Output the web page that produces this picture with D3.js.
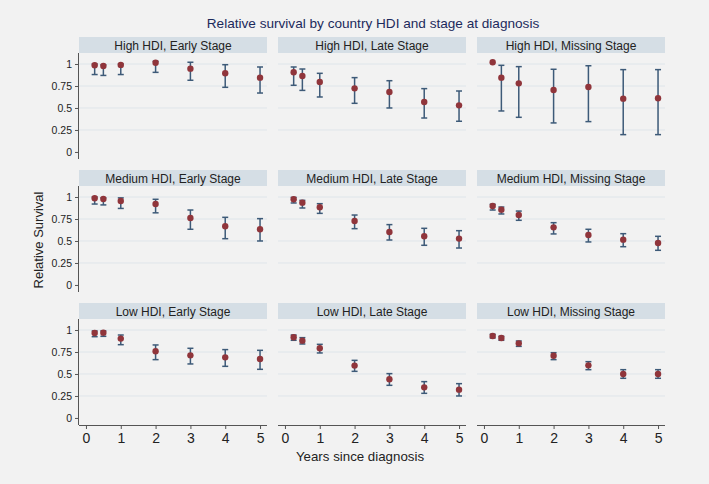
<!DOCTYPE html>
<html>
<head>
<meta charset="utf-8">
<script src="https://cdn.jsdelivr.net/npm/d3@7"></script>
<style>
  html, body { margin: 0; padding: 0; background: #f2f2f2; }
  svg { display: block; }
  text { font-family: "Liberation Sans", Arial, sans-serif; }
</style>
</head>
<body>
<svg id="chart" width="709" height="484"></svg>
<script>
// ---- data ----
const hdiLevels = ["High", "Medium", "Low"];
const stages = ["Early", "Late", "Missing"];
const years = [0.25, 0.5, 1, 2, 3, 4, 5];
const xTicks = [0, 1, 2, 3, 4, 5];
const yTicks = [0, 0.25, 0.5, 0.75, 1];
const yTickLabels = ["0", "0.25", "0.5", "0.75", "1"];

// High HDI
const highEarlyEst   = [0.985, 0.977, 0.990, 1.015, 0.947, 0.894, 0.845];
const highEarlyLo    = [0.880, 0.870, 0.880, 0.905, 0.815, 0.735, 0.670];
const highEarlyHi    = [1.000, 0.990, 1.000, 1.030, 1.020, 0.992, 0.966];
const highLateEst    = [0.906, 0.864, 0.795, 0.723, 0.682, 0.568, 0.530];
const highLateLo     = [0.758, 0.700, 0.625, 0.553, 0.500, 0.386, 0.349];
const highLateHi     = [0.966, 0.943, 0.894, 0.845, 0.810, 0.720, 0.693];
const highMissingEst = [1.019, 0.845, 0.780, 0.705, 0.739, 0.606, 0.610];
const highMissingLo  = [null,  0.466, 0.394, 0.330, 0.345, 0.197, 0.197];
const highMissingHi  = [null,  0.985, 0.970, 0.940, 0.980, 0.936, 0.936];
// Medium HDI
const medEarlyEst    = [0.985, 0.977, 0.955, 0.920, 0.761, 0.667, 0.633];
const medEarlyLo     = [0.920, 0.910, 0.870, 0.820, 0.633, 0.526, 0.500];
const medEarlyHi     = [1.000, 0.990, 0.990, 0.974, 0.852, 0.769, 0.754];
const medLateEst     = [0.974, 0.936, 0.883, 0.727, 0.602, 0.553, 0.527];
const medLateLo      = [0.932, 0.875, 0.814, 0.640, 0.511, 0.451, 0.420];
const medLateHi      = [0.995, 0.962, 0.924, 0.795, 0.686, 0.644, 0.617];
const medMissingEst  = [0.898, 0.856, 0.795, 0.655, 0.568, 0.515, 0.477];
const medMissingLo   = [0.852, 0.807, 0.735, 0.580, 0.489, 0.435, 0.394];
const medMissingHi   = [0.917, 0.886, 0.840, 0.708, 0.633, 0.583, 0.553];
// Low HDI
const lowEarlyEst    = [0.965, 0.970, 0.902, 0.758, 0.712, 0.689, 0.670];
const lowEarlyLo     = [0.924, 0.928, 0.833, 0.663, 0.614, 0.587, 0.553];
const lowEarlyHi     = [0.989, 0.990, 0.943, 0.830, 0.792, 0.777, 0.769];
const lowLateEst     = [0.917, 0.879, 0.792, 0.595, 0.440, 0.348, 0.322];
const lowLateLo      = [0.883, 0.841, 0.739, 0.530, 0.371, 0.280, 0.250];
const lowLateHi      = [0.943, 0.913, 0.837, 0.655, 0.504, 0.413, 0.390];
const lowMissingEst  = [0.932, 0.909, 0.848, 0.708, 0.598, 0.500, 0.500];
const lowMissingLo   = [0.909, 0.883, 0.814, 0.663, 0.549, 0.451, 0.451];
const lowMissingHi   = [0.951, 0.928, 0.875, 0.742, 0.640, 0.549, 0.549];

const panelSeries = [
  [[highEarlyEst, highEarlyLo, highEarlyHi], [highLateEst, highLateLo, highLateHi], [highMissingEst, highMissingLo, highMissingHi]],
  [[medEarlyEst, medEarlyLo, medEarlyHi], [medLateEst, medLateLo, medLateHi], [medMissingEst, medMissingLo, medMissingHi]],
  [[lowEarlyEst, lowEarlyLo, lowEarlyHi], [lowLateEst, lowLateLo, lowLateHi], [lowMissingEst, lowMissingLo, lowMissingHi]]
];

// ---- layout ----
const svg = d3.select("#chart");
const colX = [79, 278, 477];
const rowY = [37, 170, 303];   // strip tops
const panelW = 188;
const stripH = 16;
const plotH = 106;

const x = d3.scaleLinear().domain([-0.2, 5.2]).range([0, panelW]);
const y = d3.scaleLinear().domain([-0.08, 1.125]).range([plotH, 0]);

const bg = "#f2f2f2", stripCol = "#d5dee5", gridCol = "#dfe5ea";
const barCol = "#3d5a78", dotCol = "#90353b", axisCol = "#555";

svg.append("rect").attr("width", 709).attr("height", 484).attr("fill", bg);

svg.append("text")
  .attr("x", 373).attr("y", 28)
  .attr("text-anchor", "middle")
  .attr("font-size", 13.6)
  .attr("fill", "#1c2a5c")
  .text("Relative survival by country HDI and stage at diagnosis");

hdiLevels.forEach((h, r) => {
  stages.forEach((s, c) => {
    const g = svg.append("g").attr("transform", `translate(${colX[c]},${rowY[r]})`);
    // strip
    g.append("rect").attr("x", 0).attr("y", 0).attr("width", panelW).attr("height", stripH)
      .attr("fill", stripCol);
    g.append("text").attr("x", panelW / 2).attr("y", stripH / 2 + 4.5)
      .attr("text-anchor", "middle").attr("font-size", 12).attr("fill", "#222")
      .text(`${h} HDI, ${s} Stage`);

    const p = g.append("g").attr("transform", `translate(0,${stripH})`);
    // gridlines
    p.selectAll("line.grid").data(yTicks.filter(v => v > 0)).enter().append("line")
      .attr("x1", 0).attr("x2", panelW)
      .attr("y1", d => y(d)).attr("y2", d => y(d))
      .attr("stroke", gridCol).attr("stroke-width", 1);

    // y axis on first column
    if (c === 0) {
      const ya = d3.axisLeft(y).tickValues(yTicks)
        .tickFormat((d, i) => yTickLabels[i]).tickSize(4).tickPadding(3);
      const ag = p.append("g").call(ya);
      ag.select(".domain").attr("d", `M-0.5,0V${plotH}`).attr("stroke", axisCol);
      ag.selectAll(".tick line").attr("stroke", axisCol);
      ag.selectAll(".tick text").attr("font-size", 10.5).attr("fill", "#222")
        .attr("font-family", "Liberation Sans, Arial, sans-serif");
    }
    // x axis on bottom row
    if (r === 2) {
      const xa = d3.axisBottom(x).tickValues(xTicks).tickFormat(d3.format("d"))
        .tickSize(4).tickPadding(4);
      const ag = p.append("g").attr("transform", `translate(0,${plotH})`).call(xa);
      ag.select(".domain").attr("d", `M0,0.5H${panelW}`).attr("stroke", axisCol);
      ag.selectAll(".tick line").attr("stroke", axisCol);
      ag.selectAll(".tick text").attr("font-size", 14).attr("fill", "#222")
        .attr("font-family", "Liberation Sans, Arial, sans-serif");
    }

    const [est, lo, hi] = panelSeries[r][c];
    const pts = years.map((yr, i) => ({ yr, est: est[i], lo: lo[i], hi: hi[i] }));
    const ci = pts.filter(d => d.lo != null && d.hi != null);
    const cap = 3;
    p.selectAll("line.ci").data(ci).enter().append("line")
      .attr("x1", d => x(d.yr)).attr("x2", d => x(d.yr))
      .attr("y1", d => y(d.lo)).attr("y2", d => y(d.hi))
      .attr("stroke", barCol).attr("stroke-width", 1.5);
    p.selectAll("line.capl").data(ci).enter().append("line")
      .attr("x1", d => x(d.yr) - cap).attr("x2", d => x(d.yr) + cap)
      .attr("y1", d => y(d.lo)).attr("y2", d => y(d.lo))
      .attr("stroke", barCol).attr("stroke-width", 1.5);
    p.selectAll("line.caph").data(ci).enter().append("line")
      .attr("x1", d => x(d.yr) - cap).attr("x2", d => x(d.yr) + cap)
      .attr("y1", d => y(d.hi)).attr("y2", d => y(d.hi))
      .attr("stroke", barCol).attr("stroke-width", 1.5);
    p.selectAll("circle.pt").data(pts).enter().append("circle")
      .attr("cx", d => x(d.yr)).attr("cy", d => y(d.est)).attr("r", 3.2)
      .attr("fill", dotCol);
  });
});

// axis titles
svg.append("text")
  .attr("transform", "translate(43,240) rotate(-90)")
  .attr("text-anchor", "middle").attr("font-size", 13).attr("fill", "#222")
  .text("Relative Survival");
svg.append("text")
  .attr("x", 360).attr("y", 461)
  .attr("text-anchor", "middle").attr("font-size", 13.3).attr("fill", "#222")
  .text("Years since diagnosis");
</script>
</body>
</html>
